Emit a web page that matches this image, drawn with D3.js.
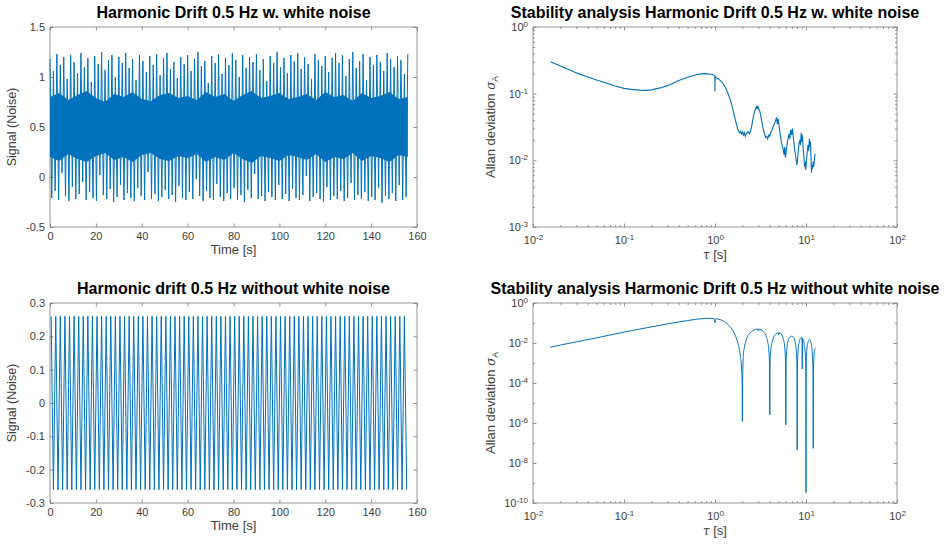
<!DOCTYPE html>
<html>
<head>
<meta charset="utf-8">
<script src="https://cdn.jsdelivr.net/npm/d3@7"></script>
<style>
  body { margin: 0; background: #fff; }
  svg { font-family: 'Liberation Sans', Arial, sans-serif; }
</style>
</head>
<body>
<div class="canvas"></div>
<script>
// --- data ---

// top left: noisy signal, dense band plus alternating spike extremes
const bandTime = [
  0, 4, 8, 12, 16, 20, 24, 28, 32, 36, 40, 44, 48, 52, 56, 60, 64, 68, 72, 76,
  80, 84, 88, 92, 96, 100, 104, 108, 112, 116, 120, 124, 128, 132, 136, 140, 144, 148, 152, 156,
]
const bandHigh = [
  0.8, 0.84, 0.77, 0.82, 0.86, 0.79, 0.75, 0.83, 0.8, 0.85, 0.78, 0.76, 0.82, 0.84, 0.79, 0.81, 0.77, 0.85, 0.8, 0.83,
  0.76, 0.82, 0.86, 0.79, 0.81, 0.84, 0.78, 0.8, 0.83, 0.77, 0.85, 0.8, 0.82, 0.76, 0.84, 0.79, 0.81, 0.85, 0.78, 0.8,
]
const bandLow = [
  0.2, 0.16, 0.23, 0.18, 0.15, 0.21, 0.24, 0.17, 0.2, 0.15, 0.22, 0.24, 0.18, 0.16, 0.21, 0.19, 0.23, 0.15, 0.2, 0.17,
  0.24, 0.18, 0.14, 0.21, 0.19, 0.16, 0.22, 0.2, 0.17, 0.23, 0.15, 0.2, 0.18, 0.24, 0.16, 0.21, 0.19, 0.15, 0.22, 0.2,
]
const noisyStep = 0.75 // s between extremes
const noisyPeaks = [
  1.18, -0.21, 1.06, -0.14, 1.23, -0.23, 1.12, 0.04, 1.2, -0.19, 0.98, -0.24, 1.22, -0.1, 1.15, -0.22, 1.04, -0.17, 1.24, -0.05,
  1.1, -0.23, 1.19, -0.15, 0.95, -0.21, 1.21, -0.24, 1.13, 0.02, 1.25, -0.18, 1.07, -0.22, 1.17, -0.12, 1.22, -0.25, 1.0, -0.2,
  1.2, -0.08, 1.14, -0.23, 1.24, -0.16, 1.09, -0.21, 1.18, -0.24, 0.97, -0.11, 1.22, -0.19, 1.16, -0.23, 1.05, 0.05, 1.21, -0.22,
  1.12, -0.17, 1.23, -0.24, 1.02, -0.2, 1.19, -0.13, 1.24, -0.22, 1.08, -0.18, 1.15, -0.25, 0.99, -0.09, 1.2, -0.21, 1.13, -0.23,
  1.22, -0.15, 1.06, -0.22, 1.18, -0.02, 1.25, -0.19, 1.11, -0.24, 1.16, -0.14, 0.94, -0.21, 1.21, -0.23, 1.14, -0.07, 1.23, -0.2,
  1.03, -0.24, 1.19, -0.16, 1.12, -0.22, 1.24, -0.11, 1.17, -0.23, 1.0, -0.18, 1.22, -0.25, 1.09, -0.13, 1.2, -0.21, 1.15, 0.03,
  1.23, -0.22, 1.07, -0.19, 1.18, -0.24, 0.96, -0.15, 1.21, -0.2, 1.14, -0.23, 1.25, -0.08, 1.1, -0.22, 1.19, -0.17, 1.04, -0.24,
  1.22, -0.12, 1.16, -0.21, 1.24, -0.23, 1.08, -0.18, 1.2, 0.01, 1.13, -0.24, 0.98, -0.2, 1.23, -0.16, 1.17, -0.22, 1.11, -0.25,
  1.21, -0.1, 1.05, -0.23, 1.19, -0.19, 1.24, -0.22, 1.14, -0.14, 1.22, -0.24, 1.01, -0.21, 1.18, -0.06, 1.25, -0.23, 1.09, -0.18,
  1.16, -0.22, 1.23, -0.15, 0.97, -0.24, 1.2, -0.2, 1.12, -0.23, 1.22, -0.11, 1.15, -0.26, 1.06, -0.19, 1.24, -0.22, 1.18, -0.16,
  1.1, -0.24, 1.21, -0.08, 1.17, -0.23, 1.03, -0.2, 1.23,
]

// bottom left: clean 0.5 Hz signal, one extreme every half period
const cleanStart = 0.5
const cleanStep = 1
const cleanPeaks = [
  0.26, -0.26, 0.26, -0.26, 0.26, -0.26, 0.26, -0.26, 0.26, -0.26, 0.26, -0.26,
  0.26, -0.26, 0.26, -0.26, 0.26, -0.26, 0.26, -0.26, 0.26, -0.26, 0.26, -0.26,
  0.26, -0.26, 0.26, -0.26, 0.26, -0.26, 0.26, -0.26, 0.26, -0.26, 0.26, -0.26,
  0.26, -0.26, 0.26, -0.26, 0.26, -0.26, 0.26, -0.26, 0.26, -0.26, 0.26, -0.26,
  0.26, -0.26, 0.26, -0.26, 0.26, -0.26, 0.26, -0.26, 0.26, -0.26, 0.26, -0.26,
  0.26, -0.26, 0.26, -0.26, 0.26, -0.26, 0.26, -0.26, 0.26, -0.26, 0.26, -0.26,
  0.26, -0.26, 0.26, -0.26, 0.26, -0.26, 0.26, -0.26, 0.26, -0.26, 0.26, -0.26,
  0.26, -0.26, 0.26, -0.26, 0.26, -0.26, 0.26, -0.26, 0.26, -0.26, 0.26, -0.26,
  0.26, -0.26, 0.26, -0.26, 0.26, -0.26, 0.26, -0.26, 0.26, -0.26, 0.26, -0.26,
  0.26, -0.26, 0.26, -0.26, 0.26, -0.26, 0.26, -0.26, 0.26, -0.26, 0.26, -0.26,
  0.26, -0.26, 0.26, -0.26, 0.26, -0.26, 0.26, -0.26, 0.26, -0.26, 0.26, -0.26,
  0.26, -0.26, 0.26, -0.26, 0.26, -0.26, 0.26, -0.26, 0.26, -0.26, 0.26, -0.26,
  0.26, -0.26, 0.26, -0.26, 0.26, -0.26, 0.26, -0.26, 0.26, -0.26, 0.26, -0.26,
]

// top right: Allan deviation with noise
const noisyTau = [
  0.0156, 0.02, 0.025, 0.03, 0.04, 0.05, 0.06, 0.07, 0.08, 0.1, 0.12, 0.15, 0.17, 0.2, 0.25, 0.3, 0.35, 0.4, 0.5, 0.6,
  0.7, 0.8, 0.9, 0.97, 0.995, 1.0, 1.003, 1.1, 1.2, 1.3, 1.4, 1.5, 1.6, 1.7, 1.78, 1.85, 1.9, 1.95, 2.0, 2.05,
  2.1, 2.15, 2.2, 2.3, 2.4, 2.5, 2.6, 2.7, 2.8, 2.85, 2.9, 2.95, 3.0, 3.1, 3.2, 3.3, 3.4, 3.5, 3.6, 3.7,
  3.8, 3.9, 4.0, 4.1, 4.2, 4.4, 4.6, 4.75, 4.85, 4.95, 5.05, 5.2, 5.4, 5.6, 5.75, 5.85, 5.95, 6.1, 6.3, 6.5,
  6.65, 6.8, 6.95, 7.1, 7.25, 7.4, 7.6, 7.8, 7.95, 8.1, 8.3, 8.5, 8.7, 8.85, 9.0, 9.15, 9.3, 9.5, 9.65, 9.8,
  9.95, 10.1, 10.3, 10.5, 10.7, 10.9, 11.05, 11.2, 11.35, 11.5, 11.65, 11.8, 12.0, 12.2, 12.4, 12.6,
]
const noisyAdev = [
  0.3, 0.26, 0.228, 0.205, 0.178, 0.16, 0.148, 0.138, 0.13, 0.12, 0.116, 0.113, 0.112, 0.114, 0.122, 0.132, 0.145, 0.158, 0.176, 0.19,
  0.198, 0.2, 0.196, 0.19, 0.187, 0.108, 0.178, 0.165, 0.148, 0.125, 0.098, 0.075, 0.052, 0.037, 0.029, 0.026, 0.027, 0.025, 0.027, 0.024,
  0.026, 0.023, 0.025, 0.027, 0.025, 0.03, 0.04, 0.052, 0.06, 0.065, 0.058, 0.066, 0.06, 0.055, 0.045, 0.036, 0.029, 0.025, 0.022, 0.023,
  0.021, 0.024, 0.023, 0.026, 0.028, 0.033, 0.038, 0.044, 0.035, 0.042, 0.034, 0.025, 0.018, 0.015, 0.012, 0.016, 0.011, 0.015, 0.02, 0.025,
  0.021, 0.029, 0.024, 0.03, 0.022, 0.017, 0.013, 0.01, 0.0085, 0.011, 0.016, 0.02, 0.017, 0.026, 0.019, 0.024, 0.015, 0.011, 0.008, 0.0095,
  0.0072, 0.0095, 0.013, 0.017, 0.014, 0.021, 0.016, 0.019, 0.011, 0.0065, 0.0085, 0.0075, 0.0095, 0.008, 0.011, 0.0125,
]

// bottom right: Allan deviation without noise
const cleanTau = [
  0.0154, 0.02, 0.03, 0.04, 0.05, 0.07, 0.1, 0.14, 0.2, 0.3, 0.4, 0.5, 0.6, 0.7, 0.8, 0.9, 0.97, 1.0, 1.02, 1.1,
  1.2, 1.3, 1.4, 1.5, 1.6, 1.7, 1.8, 1.9, 1.96, 1.99, 2.0, 2.01, 2.05, 2.1, 2.2, 2.35, 2.5, 2.7, 2.9, 2.97,
  3.0, 3.03, 3.2, 3.4, 3.6, 3.8, 3.9, 3.97, 4.0, 4.03, 4.1, 4.3, 4.6, 4.9, 4.97, 5.0, 5.03, 5.3, 5.6, 5.85,
  5.95, 6.0, 6.05, 6.2, 6.5, 6.8, 7.0, 7.3, 7.6, 7.85, 7.97, 8.0, 8.03, 8.2, 8.5, 8.8, 9.05, 9.1, 9.15, 9.4,
  9.6, 9.85, 9.97, 10.0, 10.03, 10.2, 10.5, 10.8, 11.0, 11.2, 11.5, 11.8, 11.95, 12.0, 12.05, 12.3, 12.6, 12.8,
]
const cleanAdev = [
  0.0061, 0.0079, 0.0114, 0.0148, 0.0181, 0.025, 0.035, 0.047, 0.064, 0.09, 0.113, 0.133, 0.15, 0.163, 0.17, 0.172, 0.168, 0.104, 0.164, 0.155,
  0.133, 0.108, 0.08, 0.057, 0.036, 0.02, 0.0085, 0.0022, 0.0005, 6e-5, 1.2e-6, 7e-5, 0.0025, 0.0058, 0.014, 0.026, 0.036, 0.045, 0.049, 0.05,
  0.041, 0.049, 0.047, 0.038, 0.025, 0.011, 0.0045, 0.0008, 2.5e-6, 0.0008, 0.0045, 0.014, 0.026, 0.032, 0.033, 0.026, 0.032, 0.029, 0.018, 0.0055,
  0.0012, 8e-7, 0.0012, 0.0065, 0.017, 0.021, 0.022, 0.019, 0.011, 0.0035, 0.0002, 4.5e-8, 0.0003, 0.0045, 0.013, 0.018, 0.0185, 0.0005, 0.017, 0.013,
  0.0075, 0.0022, 0.0002, 3.3e-10, 0.0002, 0.0045, 0.0105, 0.014, 0.015, 0.013, 0.0075, 0.0018, 0.00015, 5.4e-8, 0.0003, 0.003, 0.005, 0.0054,
]

// --- layout ---
const blue = '#0072bd'
const axisGrey = '#7a7a7a'
const textGrey = '#404040'

const boxes = {
  topLeft: { x: 50, y: 27, w: 367, h: 200 },
  topRight: { x: 533, y: 27, w: 364, h: 200 },
  bottomLeft: { x: 50, y: 303, w: 367, h: 200 },
  bottomRight: { x: 533, y: 303, w: 364, h: 200 },
}

const svg = d3
  .select('.canvas')
  .append('svg')
  .attr('width', 946)
  .attr('height', 548)

// draws the MATLAB style box: inward ticks on all four sides
const frame = (box, x, y, opts) => {
  const g = svg.append('g').attr('transform', `translate(${box.x}, ${box.y})`)
  const tick = 3.5

  const bottom = g
    .append('g')
    .attr('transform', `translate(0, ${box.h})`)
    .call(
      d3.axisBottom(x).tickValues(opts.xTicks).tickSizeInner(-tick).tickSizeOuter(0)
        .tickPadding(opts.xPad).tickFormat(opts.xFormat)
    )
  g.append('g')
    .call(d3.axisTop(x).tickValues(opts.xTicks).tickSizeInner(-tick).tickSizeOuter(0).tickFormat(''))
  const left = g
    .append('g')
    .call(
      d3.axisLeft(y).tickValues(opts.yTicks).tickSizeInner(-tick).tickSizeOuter(0)
        .tickPadding(5).tickFormat(opts.yFormat)
    )
  g.append('g')
    .attr('transform', `translate(${box.w}, 0)`)
    .call(d3.axisRight(y).tickValues(opts.yTicks).tickSizeInner(-tick).tickSizeOuter(0).tickFormat(''))

  // minor ticks for log axes
  if (opts.xMinor) {
    g.append('g').attr('transform', `translate(0, ${box.h})`)
      .call(d3.axisBottom(x).tickValues(opts.xMinor).tickSizeInner(-2).tickSizeOuter(0).tickFormat(''))
    g.append('g')
      .call(d3.axisTop(x).tickValues(opts.xMinor).tickSizeInner(-2).tickSizeOuter(0).tickFormat(''))
  }
  if (opts.yMinor) {
    g.append('g')
      .call(d3.axisLeft(y).tickValues(opts.yMinor).tickSizeInner(-2).tickSizeOuter(0).tickFormat(''))
    g.append('g').attr('transform', `translate(${box.w}, 0)`)
      .call(d3.axisRight(y).tickValues(opts.yMinor).tickSizeInner(-2).tickSizeOuter(0).tickFormat(''))
  }

  g.selectAll('.domain').remove()
  g.selectAll('.tick line').attr('stroke', axisGrey).attr('stroke-width', 0.8)
  g.selectAll('.tick text').attr('fill', textGrey).attr('font-size', '11px')

  // powers of ten as 10 with superscript
  if (opts.pow) {
    ;[bottom, left].forEach((ax) => {
      ax.selectAll('.tick text').each(function (d) {
        const e = Math.round(Math.log10(d))
        const t = d3.select(this).text('10')
        t.append('tspan').attr('dy', '-0.5em').attr('font-size', '8px').text(e)
      })
    })
  }

  g.append('rect')
    .attr('width', box.w)
    .attr('height', box.h)
    .attr('fill', 'none')
    .attr('stroke', axisGrey)
    .attr('stroke-width', 0.8)

  // title
  g.append('text')
    .attr('x', box.w / 2)
    .attr('y', -9)
    .attr('text-anchor', 'middle')
    .attr('font-size', '16px')
    .attr('font-weight', 'bold')
    .attr('fill', '#000')
    .text(opts.title)

  return g
}

const minorDecades = (lo, hi) => {
  const out = []
  for (let e = lo; e < hi; e++) {
    for (let m = 2; m <= 9; m++) out.push(m * Math.pow(10, e))
  }
  return out
}

const labelsLinear = (g, box) => {
  g.append('text')
    .attr('x', box.w / 2)
    .attr('y', box.h + 27)
    .attr('text-anchor', 'middle')
    .attr('font-size', '13px')
    .attr('fill', textGrey)
    .text('Time [s]')
  g.append('text')
    .attr('transform', `translate(-34, ${box.h / 2}) rotate(-90)`)
    .attr('text-anchor', 'middle')
    .attr('font-size', '12.5px')
    .attr('fill', textGrey)
    .text('Signal (Noise)')
}

const labelsLog = (g, box) => {
  const xl = g.append('text')
    .attr('x', box.w / 2)
    .attr('y', box.h + 32)
    .attr('text-anchor', 'middle')
    .attr('font-size', '13px')
    .attr('fill', textGrey)
  xl.append('tspan').attr('font-style', 'italic').attr('font-family', 'DejaVu Serif, serif').attr('font-size', '12px').text('τ')
  xl.append('tspan').text(' [s]')

  const yl = g.append('text')
    .attr('transform', `translate(-38, ${box.h / 2}) rotate(-90)`)
    .attr('text-anchor', 'middle')
    .attr('font-size', '13px')
    .attr('fill', textGrey)
  yl.append('tspan').text('Allan deviation ')
  yl.append('tspan').attr('font-style', 'italic').attr('font-family', 'DejaVu Serif, serif').attr('font-size', '12px').text('σ')
  yl.append('tspan').attr('dy', '0.35em').attr('font-size', '8.5px').text('A')
}

// --- top left: signal with white noise ---
{
  const box = boxes.topLeft
  const x = d3.scaleLinear().domain([0, 160]).range([0, box.w])
  const y = d3.scaleLinear().domain([-0.5, 1.5]).range([box.h, 0])
  const g = frame(box, x, y, {
    xTicks: d3.range(0, 161, 20),
    yTicks: [-0.5, 0, 0.5, 1, 1.5],
    xFormat: d3.format('d'),
    yFormat: (d) => String(d),
    xPad: 5,
    title: 'Harmonic Drift 0.5 Hz w. white noise',
  })
  labelsLinear(g, box)

  // solid core of the noise band with ragged edges
  const band = d3.area()
    .x((d, i) => x(bandTime[i]))
    .y0((d, i) => y(bandLow[i]))
    .y1((d, i) => y(bandHigh[i]))
  g.append('path').datum(bandTime).attr('d', band).attr('fill', blue)

  const trace = d3.line()
    .x((d, i) => x(i * noisyStep))
    .y((d) => y(d))
  g.append('path')
    .datum(noisyPeaks)
    .attr('d', trace)
    .attr('fill', 'none')
    .attr('stroke', blue)
    .attr('stroke-width', 1)
}

// --- bottom left: signal without noise ---
{
  const box = boxes.bottomLeft
  const x = d3.scaleLinear().domain([0, 160]).range([0, box.w])
  const y = d3.scaleLinear().domain([-0.3, 0.3]).range([box.h, 0])
  const g = frame(box, x, y, {
    xTicks: d3.range(0, 161, 20),
    yTicks: [-0.3, -0.2, -0.1, 0, 0.1, 0.2, 0.3],
    xFormat: d3.format('d'),
    yFormat: (d) => String(d),
    xPad: 5,
    title: 'Harmonic drift 0.5 Hz without white noise',
  })
  labelsLinear(g, box)

  const trace = d3.line()
    .x((d, i) => x(cleanStart + i * cleanStep))
    .y((d) => y(d))
  g.append('path')
    .datum(cleanPeaks)
    .attr('d', trace)
    .attr('fill', 'none')
    .attr('stroke', blue)
    .attr('stroke-width', 1)
}

// --- top right: Allan deviation with noise ---
{
  const box = boxes.topRight
  const x = d3.scaleLog().domain([1e-2, 1e2]).range([0, box.w])
  const y = d3.scaleLog().domain([1e-3, 1]).range([box.h, 0])
  const g = frame(box, x, y, {
    xTicks: [1e-2, 1e-1, 1, 10, 100],
    yTicks: [1e-3, 1e-2, 1e-1, 1],
    xMinor: minorDecades(-2, 2),
    yMinor: minorDecades(-3, 0),
    xFormat: '',
    yFormat: '',
    xPad: 9,
    pow: true,
    title: 'Stability analysis Harmonic Drift 0.5 Hz w. white noise',
  })
  labelsLog(g, box)

  const curve = d3.line()
    .x((d, i) => x(noisyTau[i]))
    .y((d) => y(d))
  g.append('path')
    .datum(noisyAdev)
    .attr('d', curve)
    .attr('fill', 'none')
    .attr('stroke', blue)
    .attr('stroke-width', 1.1)
}

// --- bottom right: Allan deviation without noise ---
{
  const box = boxes.bottomRight
  const x = d3.scaleLog().domain([1e-2, 1e2]).range([0, box.w])
  const y = d3.scaleLog().domain([1e-10, 1]).range([box.h, 0])
  const g = frame(box, x, y, {
    xTicks: [1e-2, 1e-1, 1, 10, 100],
    yTicks: [1e-10, 1e-8, 1e-6, 1e-4, 1e-2, 1],
    xMinor: minorDecades(-2, 2),
    yMinor: [1e-9, 1e-7, 1e-5, 1e-3, 1e-1],
    xFormat: '',
    yFormat: '',
    xPad: 9,
    pow: true,
    title: 'Stability analysis Harmonic Drift 0.5 Hz without white noise',
  })
  labelsLog(g, box)

  const curve = d3.line()
    .x((d, i) => x(cleanTau[i]))
    .y((d) => y(d))
    .curve(d3.curveMonotoneX)
  g.append('path')
    .datum(cleanAdev)
    .attr('d', curve)
    .attr('fill', 'none')
    .attr('stroke', blue)
    .attr('stroke-width', 1)
}
</script>
</body>
</html>
